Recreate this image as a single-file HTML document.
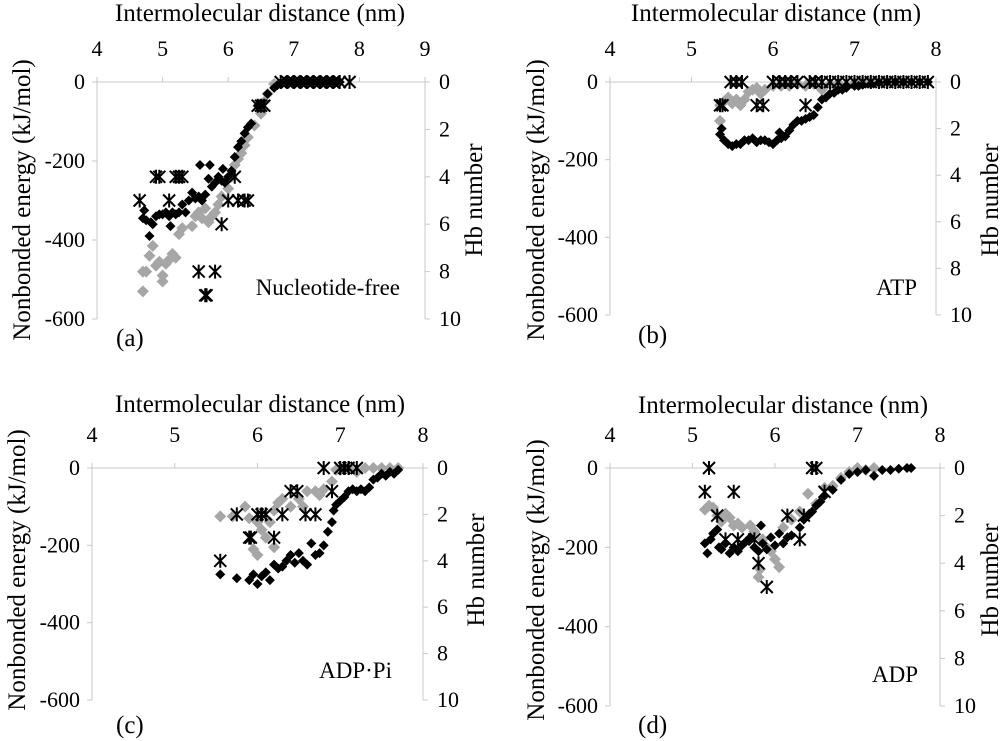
<!DOCTYPE html>
<html><head><meta charset="utf-8"><style>
body{margin:0;background:#fff}
svg{display:block}
svg text{font-family:"Liberation Serif","Times New Roman","DejaVu Serif",serif}
</style></head><body>
<svg id="chart" width="1000" height="741" viewBox="0 0 1000 741" font-family="Liberation Serif, serif"></svg>
<script>
// ---- data ----
const aBlack=[[4.7,-345],[4.72,-325],[4.75,-350],[4.8,-390],[4.82,-355],[4.85,-360],[4.9,-340],[4.95,-335],[5.0,-335],[5.05,-330],[5.1,-340],[5.12,-365],[5.15,-330],[5.2,-335],[5.25,-330],[5.3,-310],[5.35,-330],[5.4,-300],[5.45,-280],[5.5,-295],[5.55,-290],[5.57,-210],[5.6,-300],[5.65,-285],[5.7,-245],[5.72,-210],[5.75,-265],[5.8,-255],[5.85,-240],[5.9,-250],[5.92,-220],[5.95,-255],[6.0,-240],[6.05,-225],[6.1,-190],[6.15,-165],[6.2,-150],[6.25,-130],[6.3,-115],[6.35,-105],[6.45,-60],[6.5,-55],[6.6,-30],[6.7,-15],[6.75,-8],[6.8,-3],[6.9,0],[7.0,0],[7.1,0],[7.2,0],[7.3,0],[7.4,0],[7.5,0],[7.6,0],[7.7,0]];
const aGray=[[4.7,-530],[4.7,-480],[4.75,-480],[4.8,-440],[4.85,-415],[4.9,-465],[4.95,-455],[5.0,-505],[5.0,-490],[5.05,-460],[5.1,-450],[5.15,-435],[5.2,-445],[5.25,-385],[5.3,-370],[5.45,-365],[5.5,-340],[5.55,-330],[5.6,-345],[5.65,-320],[5.7,-355],[5.75,-340],[5.8,-330],[5.85,-310],[5.9,-290],[6.0,-270],[6.05,-240],[6.1,-210],[6.15,-195],[6.2,-180],[6.25,-160],[6.3,-140],[6.4,-110],[6.5,-80],[6.55,-50],[6.6,-30],[6.7,-5]];
const aHb=[[4.65,5],[4.9,4],[4.95,4],[5.1,5],[5.2,4],[5.25,4],[5.3,4],[5.55,8],[5.65,9],[5.67,9],[5.8,8],[5.9,6],[6.0,5],[6.1,4],[6.15,5],[6.25,5],[6.3,5],[6.45,1],[6.5,1],[6.55,1],[6.8,0],[6.9,0],[7.0,0],[7.1,0],[7.2,0],[7.3,0],[7.4,0],[7.5,0],[7.6,0],[7.7,0],[7.85,0]];
const bBlack=[[5.35,-135],[5.37,-120],[5.4,-150],[5.45,-160],[5.5,-165],[5.55,-160],[5.6,-160],[5.65,-150],[5.7,-150],[5.75,-145],[5.8,-155],[5.85,-150],[5.9,-150],[5.95,-155],[6.0,-160],[6.05,-150],[6.08,-130],[6.1,-145],[6.15,-140],[6.2,-125],[6.25,-110],[6.3,-100],[6.35,-100],[6.4,-95],[6.45,-90],[6.5,-85],[6.55,-65],[6.6,-45],[6.65,-40],[6.7,-30],[6.75,-28],[6.8,-20],[6.85,-20],[6.9,-15],[7.0,-10],[7.05,-10],[7.1,-7],[7.2,-5],[7.3,-2],[7.4,0],[7.5,0],[7.6,0],[7.7,0],[7.8,0],[7.9,0]];
const bGray=[[5.35,-100],[5.35,-60],[5.4,-50],[5.45,-40],[5.5,-55],[5.55,-45],[5.6,-60],[5.65,-45],[5.7,-25],[5.75,-20],[5.8,-15],[5.85,-30],[5.9,-20],[6.0,-10],[6.1,-10],[6.2,-10],[6.3,-5],[6.4,-10],[6.5,-5],[6.6,-20],[6.7,-5],[6.8,-3],[7.0,-2],[7.1,0],[7.2,0],[7.3,0],[7.4,0],[7.5,0],[7.6,0]];
const bHb=[[5.35,1],[5.38,1],[5.48,0],[5.55,0],[5.62,0],[5.8,1],[5.88,1],[6.0,0],[6.08,0],[6.15,0],[6.22,0],[6.3,0],[6.4,1],[6.45,0],[6.52,0],[6.6,0],[6.7,0],[6.8,0],[6.9,0],[7.0,0],[7.1,0],[7.2,0],[7.3,0],[7.4,0],[7.5,0],[7.6,0],[7.7,0],[7.8,0],[7.9,0]];
const cBlack=[[5.55,-275],[5.75,-285],[5.9,-290],[5.95,-275],[6.0,-300],[6.05,-280],[6.1,-270],[6.15,-290],[6.2,-250],[6.25,-260],[6.3,-255],[6.35,-240],[6.4,-225],[6.45,-245],[6.5,-220],[6.55,-240],[6.6,-250],[6.65,-195],[6.7,-225],[6.75,-220],[6.8,-200],[6.85,-165],[6.9,-140],[6.92,-110],[6.95,-95],[7.0,-85],[7.05,-75],[7.1,-60],[7.15,-55],[7.2,-60],[7.25,-55],[7.3,-60],[7.35,-50],[7.4,-30],[7.45,-25],[7.5,-15],[7.55,-20],[7.6,-10],[7.65,-15],[7.7,-5]];
const cGray=[[5.55,-125],[5.7,-125],[5.85,-100],[5.9,-130],[5.95,-210],[6.0,-225],[6.0,-140],[6.05,-160],[6.1,-180],[6.15,-140],[6.2,-205],[6.2,-110],[6.25,-90],[6.3,-80],[6.4,-100],[6.5,-80],[6.55,-100],[6.6,-60],[6.7,-60],[6.75,-70],[6.8,-55],[6.9,-35],[6.95,-5],[7.0,-5],[7.1,0],[7.2,-10],[7.3,0],[7.4,0],[7.5,0],[7.6,0],[7.7,0]];
const cHb=[[5.55,4],[5.75,2],[5.9,3],[5.92,3],[6.0,2],[6.05,2],[6.1,2],[6.2,3],[6.3,2],[6.4,1],[6.48,1],[6.58,2],[6.7,2],[6.8,0],[6.9,1],[7.0,0],[7.05,0],[7.1,0],[7.2,0]];
const dBlack=[[5.15,-190],[5.18,-215],[5.22,-180],[5.25,-165],[5.3,-155],[5.32,-200],[5.35,-205],[5.4,-190],[5.45,-215],[5.5,-200],[5.55,-210],[5.6,-195],[5.65,-185],[5.7,-175],[5.75,-200],[5.8,-210],[5.83,-145],[5.85,-190],[5.9,-205],[5.95,-175],[6.0,-195],[6.05,-165],[6.1,-190],[6.15,-175],[6.2,-170],[6.3,-150],[6.35,-130],[6.4,-120],[6.45,-110],[6.5,-95],[6.55,-85],[6.6,-70],[6.7,-55],[6.8,-30],[6.9,-15],[7.0,-10],[7.1,-5],[7.2,-20],[7.3,-5],[7.4,-5],[7.5,-2],[7.6,0],[7.65,0]];
const dGray=[[5.15,-105],[5.2,-95],[5.25,-100],[5.3,-120],[5.35,-135],[5.4,-115],[5.45,-125],[5.5,-145],[5.55,-140],[5.6,-150],[5.7,-145],[5.75,-160],[5.8,-275],[5.82,-255],[5.85,-180],[5.9,-200],[5.95,-210],[6.0,-230],[6.05,-250],[6.1,-150],[6.2,-130],[6.3,-110],[6.4,-65],[6.5,-90],[6.6,-50],[6.7,-45],[6.8,-25],[6.9,-10],[7.0,0],[7.1,-5],[7.2,0]];
const dHb=[[5.15,1],[5.2,0],[5.3,2],[5.4,3],[5.5,1],[5.55,3],[5.75,3],[5.8,4],[5.9,5],[6.15,2],[6.3,3],[6.35,2],[6.45,0],[6.5,0],[6.6,1]];
const yTicks=[0,-200,-400,-600];
const hbTicks=[0,2,4,6,8,10];

// ---- geometry ----
const panels=[
 {id:'a',x0:97,x1:425,xmax:9,yz:82,y6:319,title:[260,21],yt:[22,200],hbt:[474,200],label:'Nucleotide-free',lx:400,ly:295,pl:'(a)',px:116,py:346,black:aBlack,gray:aGray,hb:aHb},
 {id:'b',x0:610,x1:936,xmax:8,yz:82,y6:315,title:[776,21],yt:[536,200],hbt:[990,200],label:'ATP',lx:917,ly:295,pl:'(b)',px:638,py:343,black:bBlack,gray:bGray,hb:bHb},
 {id:'c',x0:92,x1:423,xmax:8,yz:468,y6:700,title:[260,412],yt:[17,570],hbt:[476,570],label:'ADP·Pi',lx:392,ly:678,pl:'(c)',px:116,py:733,black:cBlack,gray:cGray,hb:cHb},
 {id:'d',x0:610,x1:940,xmax:8,yz:468,y6:706,title:[783,413],yt:[536,580],hbt:[990,580],label:'ADP',lx:918,ly:682,pl:'(d)',px:638,py:733,black:dBlack,gray:dGray,hb:dHb}
];
const NS='http://www.w3.org/2000/svg';
const svg=document.getElementById('chart');
const FF='"Liberation Serif", "Times New Roman", serif';
function mk(tag,attrs,parent,txt){const e=document.createElementNS(NS,tag);for(const k in attrs)e.setAttribute(k,attrs[k]);if(tag==='text')e.style.fontFamily=FF;if(txt!==undefined)e.textContent=txt;parent.appendChild(e);return e;}
panels.forEach(p=>{
 const g=mk('g',{},svg);
 
 
 const sx=v=>p.x0+(v-4)/(p.xmax-4)*(p.x1-p.x0);
 const sy=v=>p.yz+(v/-600)*(p.y6-p.yz);
 const sh=v=>sy(-60*v);
 const ax='#c8c8c8';
 const xa=mk('line',{x1:p.x0,y1:p.yz,x2:p.x1,y2:p.yz,stroke:ax,'stroke-width':1},g);
 
 const ya=mk('line',{x1:p.x0,y1:p.yz,x2:p.x0,y2:p.y6,stroke:ax,'stroke-width':1},g);
 
 const ra=mk('line',{x1:p.x1,y1:p.yz,x2:p.x1,y2:p.y6,stroke:ax,'stroke-width':1},g);
 
 for(let v=4;v<=p.xmax;v++){
  mk('line',{x1:sx(v),y1:p.yz,x2:sx(v),y2:p.yz-5,stroke:ax},g);
  const t=mk('text',{x:sx(v),y:p.yz-26,'font-size':22,'text-anchor':'middle'},g,String(v));
  
 }
 yTicks.forEach(v=>{
  mk('line',{x1:p.x0-5,y1:sy(v),x2:p.x0,y2:sy(v),stroke:ax},g);
  const t=mk('text',{x:p.x0-12,y:sy(v)+7,'font-size':22,'text-anchor':'end'},g,String(v));
  
 });
 hbTicks.forEach(v=>{
  mk('line',{x1:p.x1,y1:sh(v),x2:p.x1+5,y2:sh(v),stroke:ax},g);
  const t=mk('text',{x:p.x1+14,y:sh(v)+7,'font-size':22},g,String(v));
  
 });
 const xt=mk('text',{x:p.title[0],y:p.title[1],'font-size':25,'text-anchor':'middle'},g,'Intermolecular distance (nm)');
 
 const yt=mk('text',{x:0,y:0,'font-size':25,'text-anchor':'middle',transform:`translate(${p.yt[0]+8},${p.yt[1]}) rotate(-90)`},g,'Nonbonded energy (kJ/mol)');
 
 const ht=mk('text',{x:0,y:0,'font-size':25,'text-anchor':'middle',transform:`translate(${p.hbt[0]+8},${p.hbt[1]}) rotate(-90)`},g,'Hb number');
 
 const lb=mk('text',{x:p.lx,y:p.ly,'font-size':23,'text-anchor':'end'},g,p.label);
 
 const pl=mk('text',{x:p.px,y:p.py,'font-size':25},g,p.pl);
 
 const diamond=(x,y,r,col,name)=>{
  const d=mk('polygon',{points:`${x},${y-r} ${x+r},${y} ${x},${y+r} ${x-r},${y}`,fill:col},g);
  
  
 };
 p.gray.forEach(([x,y])=>diamond(sx(x),sy(y),6,'#a6a6a6','gray-energy-point'));
 p.black.forEach(([x,y])=>diamond(sx(x),sy(y),5,'#000','black-energy-point'));
 p.hb.forEach(([x,v])=>{
  const cx=sx(x),cy=sh(v),r=6;
  const a=mk('path',{d:`M${cx-r},${cy-r}L${cx+r},${cy+r}M${cx+r},${cy-r}L${cx-r},${cy+r}M${cx},${cy-r-1}L${cx},${cy+r+1}`,stroke:'#000','stroke-width':2,fill:'none'},g);
  
  
 });
});
</script>
</body></html>
